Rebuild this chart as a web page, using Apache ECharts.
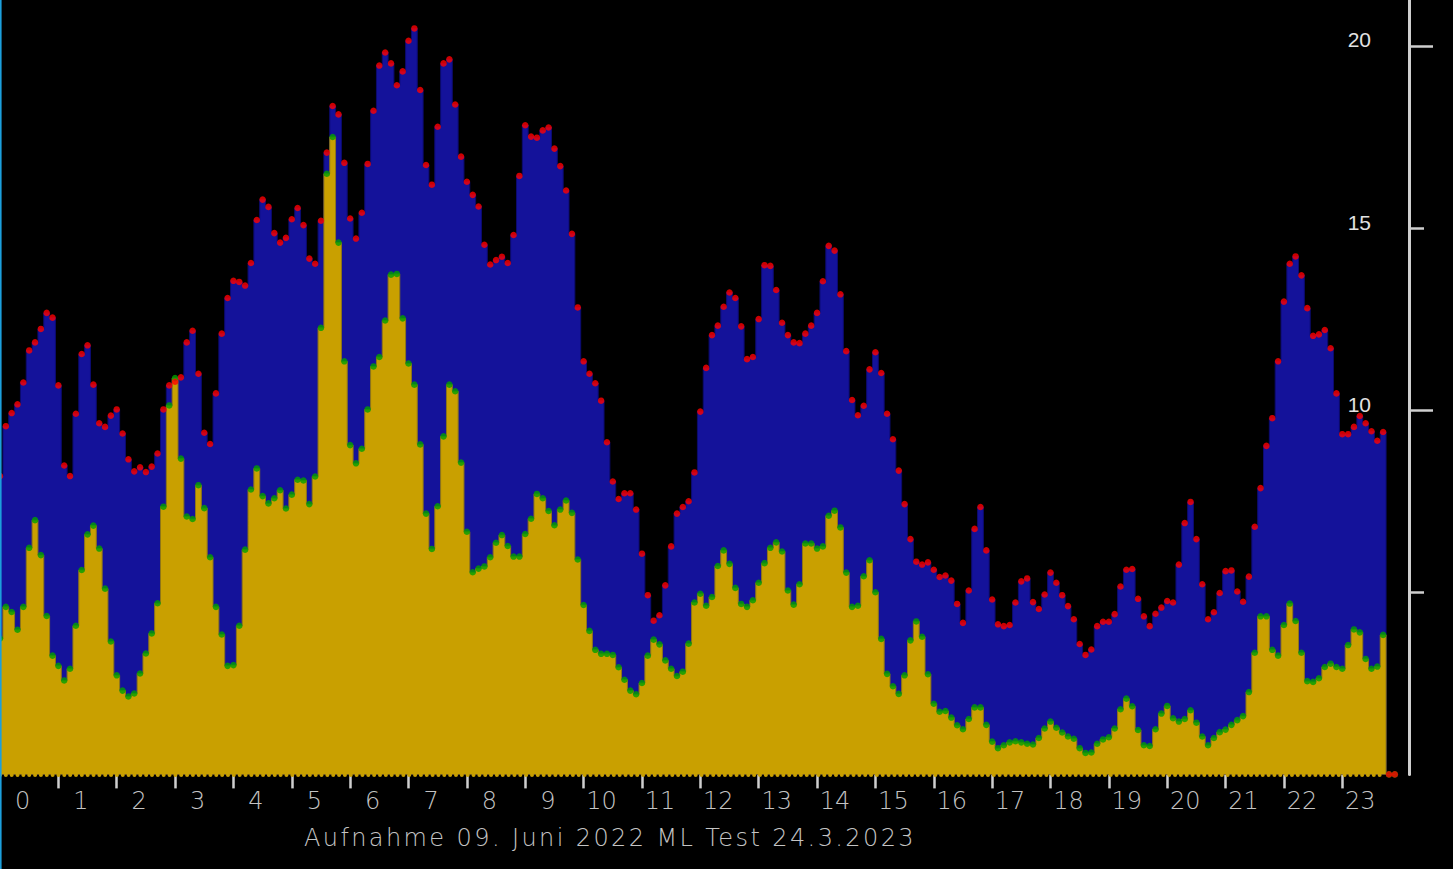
<!DOCTYPE html>
<html>
<head>
<meta charset="utf-8">
<script src="https://cdn.jsdelivr.net/npm/echarts@6/dist/echarts.min.js"></script>
<style>
  html, body { margin: 0; padding: 0; background: #000; }
  #chart { width: 1453px; height: 869px; }
</style>
</head>
<body>
<div id="chart"></div>
<script>
// Hour tick labels
const hourLabels = ['0','1','2','3','4','5','6','7','8','9','10','11','12','13','14','15','16','17','18','19','20','21','22','23'];
// y axis tick labels
const yTickValues = [5, 10, 15, 20];

// Blue series (red dots), one value every 6 minutes
const blueValues = [
  8.19, 9.56, 9.92, 10.16, 10.76, 11.64, 11.86, 12.23, 12.67, 12.54,
  10.68, 8.48, 8.19, 9.9, 11.54, 11.78, 10.7, 9.64, 9.54, 9.85,
  10.02, 9.36, 8.65, 8.32, 8.43, 8.3, 8.45, 8.81, 10.02, 10.68,
  10.78, 10.9, 11.86, 12.18, 11.0, 9.38, 9.07, 10.46, 12.1, 13.08,
  13.55, 13.52, 13.42, 14.04, 15.22, 15.78, 15.58, 14.86, 14.6, 14.73,
  15.24, 15.55, 15.08, 14.16, 14.02, 15.2, 17.07, 18.35, 18.12, 16.79,
  15.26, 14.71, 15.42, 16.76, 18.22, 19.46, 19.82, 19.52, 18.92, 19.3,
  20.14, 20.48, 18.79, 16.73, 16.19, 17.78, 19.52, 19.63, 18.39, 16.96,
  16.27, 15.91, 15.59, 14.54, 14.0, 14.12, 14.21, 14.04, 14.81, 16.43,
  17.82, 17.51, 17.48, 17.68, 17.76, 17.18, 16.7, 16.03, 14.84, 12.82,
  11.34, 11.0, 10.74, 10.26, 9.12, 8.04, 7.56, 7.72, 7.72, 7.27,
  6.06, 4.92, 4.22, 4.37, 5.19, 6.26, 7.16, 7.34, 7.5, 8.29,
  9.96, 11.16, 12.06, 12.32, 12.84, 13.23, 13.08, 12.3, 11.4, 11.46,
  12.5, 13.98, 13.96, 13.3, 12.4, 12.06, 11.86, 11.84, 12.1, 12.32,
  12.67, 13.54, 14.51, 14.38, 13.18, 11.62, 10.28, 9.86, 10.12, 11.12,
  11.59, 11.02, 9.9, 9.2, 8.34, 7.42, 6.46, 5.84, 5.76, 5.82,
  5.62, 5.42, 5.46, 5.32, 4.68, 4.16, 5.05, 6.74, 7.34, 6.15,
  4.8, 4.12, 4.07, 4.1, 4.72, 5.3, 5.38, 4.73, 4.54, 4.94,
  5.54, 5.26, 4.92, 4.62, 4.26, 3.58, 3.28, 3.43, 4.07, 4.19,
  4.19, 4.4, 5.16, 5.62, 5.64, 4.82, 4.34, 4.07, 4.41, 4.58,
  4.76, 4.72, 5.76, 6.9, 7.48, 6.46, 5.22, 4.26, 4.45, 4.98,
  5.58, 5.6, 5.02, 4.74, 5.43, 6.8, 7.86, 9.02, 9.78, 11.34,
  12.98, 14.02, 14.22, 13.7, 12.8, 12.04, 12.08, 12.2, 11.7, 10.46,
  9.34, 9.34, 9.54, 9.84, 9.64, 9.42, 9.16, 9.4, 0, 0
];

// Yellow series (green dots)
const yellowValues = [
  3.73, 4.6, 4.46, 3.97, 4.6, 6.22, 6.98, 6.02, 4.35, 3.26,
  2.98, 2.58, 2.9, 4.08, 5.61, 6.59, 6.83, 6.2, 5.1, 3.65,
  2.72, 2.3, 2.14, 2.22, 2.77, 3.32, 3.87, 4.7, 7.35, 10.13,
  10.88, 8.67, 7.08, 7.01, 7.94, 7.31, 5.96, 4.6, 3.84, 2.98,
  3.0, 4.08, 6.17, 7.82, 8.4, 7.64, 7.44, 7.58, 7.8, 7.3,
  7.68, 8.09, 8.07, 7.42, 8.18, 12.26, 16.49, 17.5, 14.6, 11.34,
  9.04, 8.54, 8.94, 10.02, 11.2, 11.46, 12.46, 13.72, 13.74, 12.52,
  11.28, 10.7, 9.06, 7.16, 6.19, 7.36, 9.28, 10.7, 10.52, 8.56,
  6.66, 5.55, 5.65, 5.71, 5.96, 6.36, 6.57, 6.27, 5.98, 5.98,
  6.6, 7.02, 7.7, 7.58, 7.23, 6.84, 7.27, 7.52, 7.18, 5.9,
  4.65, 3.94, 3.42, 3.31, 3.31, 3.28, 2.94, 2.6, 2.3, 2.2,
  2.51, 3.26, 3.7, 3.57, 3.13, 2.9, 2.7, 2.82, 3.59, 4.72,
  4.96, 4.63, 4.87, 5.72, 6.15, 5.78, 5.12, 4.68, 4.6, 4.78,
  5.26, 5.8, 6.22, 6.37, 6.12, 5.05, 4.66, 5.22, 6.34, 6.34,
  6.2, 6.26, 7.1, 7.24, 6.78, 5.54, 4.6, 4.63, 5.44, 5.88,
  5.0, 3.72, 2.76, 2.42, 2.21, 2.72, 3.68, 4.2, 3.78, 2.75,
  1.94, 1.72, 1.74, 1.56, 1.35, 1.24, 1.52, 1.84, 1.84, 1.36,
  0.9, 0.72, 0.8, 0.88, 0.91, 0.88, 0.84, 0.82, 1.0, 1.26,
  1.45, 1.28, 1.15, 1.04, 0.98, 0.72, 0.59, 0.6, 0.84, 0.96,
  1.02, 1.26, 1.79, 2.08, 1.87, 1.22, 0.8, 0.78, 1.24, 1.67,
  1.88, 1.54, 1.45, 1.52, 1.76, 1.42, 1.04, 0.8, 1.0, 1.16,
  1.23, 1.36, 1.49, 1.6, 2.26, 3.34, 4.34, 4.34, 3.42, 3.26,
  4.1, 4.69, 4.21, 3.34, 2.56, 2.54, 2.64, 2.95, 3.04, 2.95,
  2.9, 3.55, 3.98, 3.9, 3.17, 2.9, 2.96, 3.83, 0, 0
];

const titleText = 'Aufnahme 09. Juni 2022 ML Test 24.3.2023';

// sampling grid: one sample every 6 minutes (0.1 h)
const times = blueValues.map((_, i) => i / 10);
const blueData = times.map((t, i) => [t, blueValues[i]]);
const yellowData = times.map((t, i) => [t, yellowValues[i]]);
const lastYellow = 237;

const hourTicks = hourLabels.map((_, h) => h).filter(h => h > 0);
const labelPos = hourLabels.map((l, h) => h + (l.length === 1 ? 0.386 : 0.308));

const chart = echarts.init(document.getElementById('chart'), null, { renderer: 'svg' });

const tickStyle = { color: '#cfcfcf', width: 2.5 };
const X_MAX = 24.143;
const Y_MAX = 21.26;
const gridBox = { left: 0, top: 0, right: 44, bottom: 94.6, containLabel: false };

chart.setOption({
  backgroundColor: '#000000',
  animation: false,
  grid: [gridBox, Object.assign({}, gridBox)],
  xAxis: [
    {
      type: 'value',
      gridIndex: 0,
      min: 0,
      max: X_MAX,
      axisLine: { show: false, onZero: false },
      splitLine: { show: false },
      axisTick: { show: true, customValues: hourTicks, length: 14, lineStyle: tickStyle },
      axisLabel: {
        customValues: labelPos,
        formatter: v => String(Math.floor(v + 1e-6)),
        color: '#c4c4c4',
        fontFamily: 'DejaVu Sans',
        fontWeight: 200,
        fontSize: 24,
        margin: 15
      }
    },
    {
      type: 'value',
      gridIndex: 1,
      min: 0,
      max: X_MAX,
      show: false
    }
  ],
  yAxis: [
    {
      type: 'value',
      gridIndex: 0,
      position: 'right',
      min: 0,
      max: Y_MAX,
      splitLine: { show: false },
      axisLine: { show: true, onZero: false, lineStyle: { color: '#cfcfcf', width: 3 } },
      axisTick: { show: true, customValues: [5, 15], length: 15, lineStyle: tickStyle },
      axisLabel: {
        customValues: yTickValues,
        inside: true,
        margin: 38,
        color: '#e2e2e2',
        fontFamily: 'Liberation Sans',
        fontSize: 21,
        verticalAlign: 'bottom',
        lineHeight: 12
      }
    },
    {
      type: 'value',
      gridIndex: 1,
      position: 'right',
      min: 0,
      max: Y_MAX,
      splitLine: { show: false },
      axisLine: { show: false, onZero: false },
      axisLabel: { show: false },
      axisTick: { show: true, customValues: [10, 20], length: 24, lineStyle: tickStyle }
    }
  ],
  series: [
    {
      name: 'blau',
      type: 'line',
      step: 'middle',
      data: blueData,
      showSymbol: false,
      silent: true,
      z: 2,
      lineStyle: { color: '#0c0b70', width: 1 },
      areaStyle: { color: '#14129a', opacity: 1 }
    },
    {
      name: 'gelb',
      type: 'line',
      step: 'middle',
      data: yellowData,
      showSymbol: false,
      silent: true,
      z: 3,
      lineStyle: { color: '#8f7618', width: 1 },
      areaStyle: { color: '#c9a000', opacity: 1 },
      markLine: {
        silent: true,
        symbol: 'none',
        label: { show: false },
        lineStyle: { color: '#c9a000', width: 4, type: [0.01, 5.836], cap: 'round' },
        data: [[{ coord: [times[0], 0] }, { coord: [times[lastYellow], 0] }]]
      }
    },
    {
      name: 'gelb Punkte',
      type: 'scatter',
      data: yellowData,
      symbolSize: 6.5,
      silent: true,
      z: 4,
      itemStyle: { color: '#00a000' }
    },
    {
      name: 'blau Punkte',
      type: 'scatter',
      data: blueData,
      symbolSize: 6.5,
      silent: true,
      z: 5,
      itemStyle: { color: '#ff0000' }
    }
  ],
  graphic: [
    {
      type: 'rect',
      left: 0,
      top: 0,
      shape: { width: 1.6, height: 869 },
      style: { fill: '#1c9fdc' },
      z: 100
    },
    {
      type: 'text',
      x: 610,
      y: 838,
      style: {
        text: titleText,
        fill: '#c4c4c4',
        font: '200 24px "DejaVu Sans"',
        textAlign: 'center',
        textVerticalAlign: 'middle'
      }
    }
  ]
});

function spaceTitle() {
  document.querySelectorAll('#chart text').forEach(t => {
    if (t.textContent.indexOf('Aufnahme') === 0) {
      t.style.letterSpacing = '2.4px';
    }
  });
}
spaceTitle();
chart.on('finished', spaceTitle);
</script>
</body>
</html>
